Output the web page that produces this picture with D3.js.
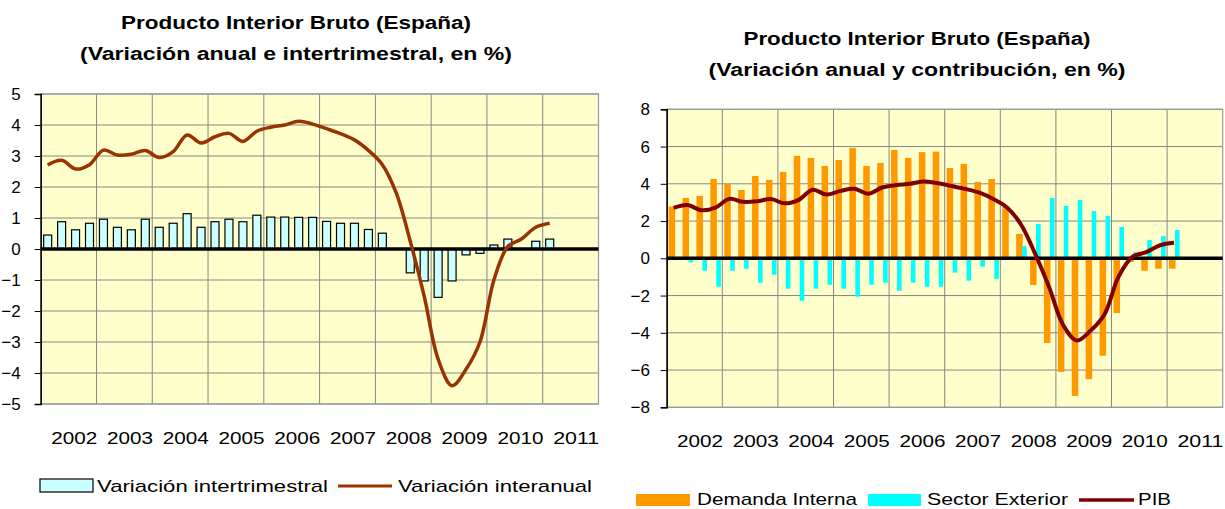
<!DOCTYPE html>
<html>
<head>
<meta charset="utf-8">
<script src="https://cdn.jsdelivr.net/npm/d3@7"></script>
<style>
  body { margin: 0; background: #fff; }
  svg { display: block; }
  text { font-family: "Liberation Sans", Arial, sans-serif; fill: #000; }
</style>
</head>
<body>
<svg id="chart" width="1225" height="509"></svg>
<script>
// años del eje y trimestres (2002T1 .. 2011T4)
const years = [2002, 2003, 2004, 2005, 2006, 2007, 2008, 2009, 2010, 2011];
const quarters = years.flatMap(y => ["T1", "T2", "T3", "T4"].map(q => y + q));

// Variación intertrimestral (%), 2002T1 .. 2011T1
const varIntertrimestral = [0.45, 0.88, 0.62, 0.83, 0.96, 0.70, 0.62, 0.96, 0.70, 0.83,
    1.14, 0.70, 0.88, 0.96, 0.88, 1.09, 1.03, 1.03, 1.02, 1.02,
    0.89, 0.83, 0.83, 0.63, 0.51, 0.00, -0.77, -1.03, -1.56, -1.03,
    -0.19, -0.14, 0.13, 0.32, 0.00, 0.25, 0.32];

// Variación interanual (%)
const varInteranual = [2.71, 2.86, 2.58, 2.72, 3.19, 3.03, 3.06, 3.18, 2.95, 3.14,
    3.68, 3.42, 3.62, 3.73, 3.47, 3.80, 3.93, 4.00, 4.12, 4.03,
    3.88, 3.72, 3.52, 3.18, 2.72, 1.80, 0.25, -1.52, -3.55, -4.41,
    -3.88, -3.00, -1.00, 0.08, 0.33, 0.70, 0.83];

// Contribuciones (puntos) y PIB
const demandaInterna = [2.78, 3.24, 3.35, 4.26, 3.99, 3.67, 4.42, 4.21, 4.64, 5.50,
    5.39, 4.96, 5.28, 5.93, 4.96, 5.12, 5.82, 5.39, 5.70, 5.73,
    4.85, 5.07, 4.10, 4.26, 2.80, 1.31, -1.44, -4.55, -6.10, -7.39,
    -6.49, -5.23, -2.94, -0.20, -0.67, -0.56, -0.56];
const sectorExterior = [0.00, -0.22, -0.67, -1.53, -0.67, -0.56, -1.31, -0.88, -1.63, -2.28,
    -1.63, -1.42, -1.63, -2.06, -1.42, -1.31, -1.74, -1.31, -1.53, -1.53,
    -0.77, -1.20, -0.45, -1.10, 0.00, 0.65, 1.84, 3.24, 2.81, 3.13,
    2.54, 2.27, 1.68, 0.33, 0.98, 1.19, 1.52];
const pib = [2.71, 2.86, 2.58, 2.72, 3.19, 3.03, 3.06, 3.18, 2.95, 3.14,
    3.68, 3.42, 3.62, 3.73, 3.47, 3.80, 3.93, 4.00, 4.12, 4.03,
    3.88, 3.72, 3.52, 3.18, 2.72, 1.80, 0.25, -1.52, -3.55, -4.41,
    -3.88, -3.00, -1.00, 0.08, 0.33, 0.70, 0.83];

const svg = d3.select("#chart");

// marco común: fondo, rejilla, eje y, etiquetas de años
function drawFrame(g, x, y, yTicks, yPad) {
    const [x0, x1] = x.range();
    const [yb, yt] = y.range();

    g.append("rect")
        .attr("x", x0).attr("y", yt)
        .attr("width", x1 - x0).attr("height", yb - yt)
        .attr("fill", "#FFFFCC");

    g.selectAll("line.hgrid")
        .data(yTicks)
        .enter()
        .append("line")
        .attr("class", "hgrid")
        .attr("x1", x0).attr("x2", x1)
        .attr("y1", d => y(d)).attr("y2", d => y(d))
        .attr("stroke", "#868686").attr("stroke-width", 1);

    g.selectAll("line.vgrid")
        .data(years.slice(1))
        .enter()
        .append("line")
        .attr("class", "vgrid")
        .attr("x1", d => x(d + "T1")).attr("x2", d => x(d + "T1"))
        .attr("y1", yt).attr("y2", yb)
        .attr("stroke", "#868686").attr("stroke-width", 1);

    g.append("rect")
        .attr("x", x0).attr("y", yt)
        .attr("width", x1 - x0).attr("height", yb - yt)
        .attr("fill", "none")
        .attr("stroke", "#9a9a9a").attr("stroke-width", 1.2);

    const yAxis = g.append("g")
        .attr("transform", `translate(${x0},0)`)
        .call(d3.axisLeft(y).tickValues(yTicks).tickSize(6).tickPadding(yPad).tickFormat(d3.format("d")));
    yAxis.select(".domain").attr("stroke", "#000").attr("stroke-width", 1.5);
    yAxis.selectAll(".tick line").attr("stroke", "#000");
    yAxis.selectAll(".tick text")
        .style("font-size", "17px")
        .style("font-family", '"Liberation Sans", Arial, sans-serif')
        .attr("fill", "#000");

    g.selectAll("text.year")
        .data(years)
        .enter()
        .append("text")
        .attr("class", "year")
        .attr("x", d => x(d + "T3") + x.bandwidth() * 0.4)
        .attr("y", yb + 40)
        .attr("text-anchor", "middle")
        .attr("textLength", 46)
        .attr("lengthAdjust", "spacingAndGlyphs")
        .style("font-size", "16.5px")
        .text(d => d);
}

function drawTitle(cx, y1, y2, l1, l2, w1, w2) {
    [[l1, y1, w1], [l2, y2, w2]].forEach(([t, yy, w]) => {
        svg.append("text")
            .attr("x", cx).attr("y", yy)
            .attr("text-anchor", "middle")
            .attr("textLength", w)
            .attr("lengthAdjust", "spacingAndGlyphs")
            .style("font-size", "17.5px")
            .style("font-weight", "bold")
            .text(t);
    });
}

// ---------- Gráfico izquierdo ----------
const xL = d3.scaleBand().domain(quarters).range([40.7, 598.5]);
const yL = d3.scaleLinear().domain([-5, 5]).range([404, 94]);
const gL = svg.append("g");
drawFrame(gL, xL, yL, d3.range(-5, 6), 14);

const barW = 8;
gL.selectAll("rect.bar")
    .data(varIntertrimestral.map((v, i) => ({ q: quarters[i], v: v })).filter(d => d.v !== 0))
    .enter()
    .append("rect")
    .attr("class", "bar")
    .attr("x", d => xL(d.q) + xL.bandwidth() / 2 - barW / 2)
    .attr("y", d => yL(Math.max(0, d.v)))
    .attr("width", barW)
    .attr("height", d => Math.abs(yL(d.v) - yL(0)))
    .attr("fill", "#CCFFFF")
    .attr("stroke", "#000")
    .attr("stroke-width", 1.2);

gL.append("line")
    .attr("x1", xL.range()[0]).attr("x2", xL.range()[1])
    .attr("y1", yL(0)).attr("y2", yL(0))
    .attr("stroke", "#000").attr("stroke-width", 3.5);

const lineL = d3.line()
    .x((d, i) => xL(quarters[i]) + xL.bandwidth() / 2)
    .y(d => yL(d))
    .curve(d3.curveCatmullRom.alpha(0.5));
gL.append("path")
    .attr("d", lineL(varInteranual))
    .attr("fill", "none")
    .attr("stroke", "#993300")
    .attr("stroke-width", 3.5)
    .attr("stroke-linejoin", "round");

drawTitle(296, 29, 60,
    "Producto Interior Bruto (España)",
    "(Variación anual e intertrimestral, en %)", 350, 432);

// leyenda izquierda
gL.append("rect").attr("x", 40).attr("y", 479).attr("width", 53).attr("height", 13)
    .attr("fill", "#CCFFFF").attr("stroke", "#000").attr("stroke-width", 1.2);
gL.append("text").attr("x", 97).attr("y", 492)
    .attr("textLength", 231).attr("lengthAdjust", "spacingAndGlyphs")
    .style("font-size", "17px").text("Variación intertrimestral");
gL.append("line").attr("x1", 338).attr("x2", 392).attr("y1", 486).attr("y2", 486)
    .attr("stroke", "#993300").attr("stroke-width", 3);
gL.append("text").attr("x", 398).attr("y", 492)
    .attr("textLength", 194).attr("lengthAdjust", "spacingAndGlyphs")
    .style("font-size", "17px").text("Variación interanual");

// ---------- Gráfico derecho ----------
const xR = d3.scaleBand().domain(quarters).range([666.7, 1222.7]);
const yR = d3.scaleLinear().domain([-8, 8]).range([407.3, 109.3]);
const gR = svg.append("g");
drawFrame(gR, xR, yR, d3.range(-8, 9, 2), 10.7);

const bw = xR.bandwidth();
gR.selectAll("rect.dem")
    .data(demandaInterna.map((v, i) => ({ q: quarters[i], v: v })))
    .enter()
    .append("rect")
    .attr("class", "dem")
    .attr("x", d => xR(d.q) + bw * 0.14)
    .attr("y", d => yR(Math.max(0, d.v)))
    .attr("width", bw * 0.47)
    .attr("height", d => Math.abs(yR(d.v) - yR(0)))
    .attr("fill", "#FF9900");

gR.selectAll("rect.ext")
    .data(sectorExterior.map((v, i) => ({ q: quarters[i], v: v })))
    .enter()
    .append("rect")
    .attr("class", "ext")
    .attr("x", d => xR(d.q) + bw * 0.57)
    .attr("y", d => yR(Math.max(0, d.v)))
    .attr("width", bw * 0.33)
    .attr("height", d => Math.abs(yR(d.v) - yR(0)))
    .attr("fill", "#00FFFF");

gR.append("line")
    .attr("x1", xR.range()[0]).attr("x2", xR.range()[1])
    .attr("y1", yR(0)).attr("y2", yR(0))
    .attr("stroke", "#000").attr("stroke-width", 3.5);

const lineR = d3.line()
    .x((d, i) => xR(quarters[i]) + bw / 2)
    .y(d => yR(d))
    .curve(d3.curveCatmullRom.alpha(0.5));
gR.append("path")
    .attr("d", lineR(pib))
    .attr("fill", "none")
    .attr("stroke", "#800000")
    .attr("stroke-width", 4)
    .attr("stroke-linejoin", "round");

drawTitle(917, 45, 76,
    "Producto Interior Bruto (España)",
    "(Variación anual y contribución, en %)", 347, 417);

// leyenda derecha
const legR = [
    { type: "box", x: 636, w: 54, color: "#FF9900", label: "Demanda Interna", tx: 697, tw: 160 },
    { type: "box", x: 868, w: 53, color: "#00FFFF", label: "Sector Exterior", tx: 927, tw: 141 },
    { type: "line", x: 1079, w: 55, color: "#800000", label: "PIB", tx: 1138, tw: 33 }
];
legR.forEach(d => {
    if (d.type === "box") {
        gR.append("rect").attr("x", d.x).attr("y", 494).attr("width", d.w).attr("height", 12)
            .attr("fill", d.color);
    } else {
        gR.append("line").attr("x1", d.x).attr("x2", d.x + d.w).attr("y1", 500).attr("y2", 500)
            .attr("stroke", d.color).attr("stroke-width", 3.5);
    }
    gR.append("text").attr("x", d.tx).attr("y", 505)
        .attr("textLength", d.tw).attr("lengthAdjust", "spacingAndGlyphs")
        .style("font-size", "17px").text(d.label);
});
</script>
</body>
</html>
